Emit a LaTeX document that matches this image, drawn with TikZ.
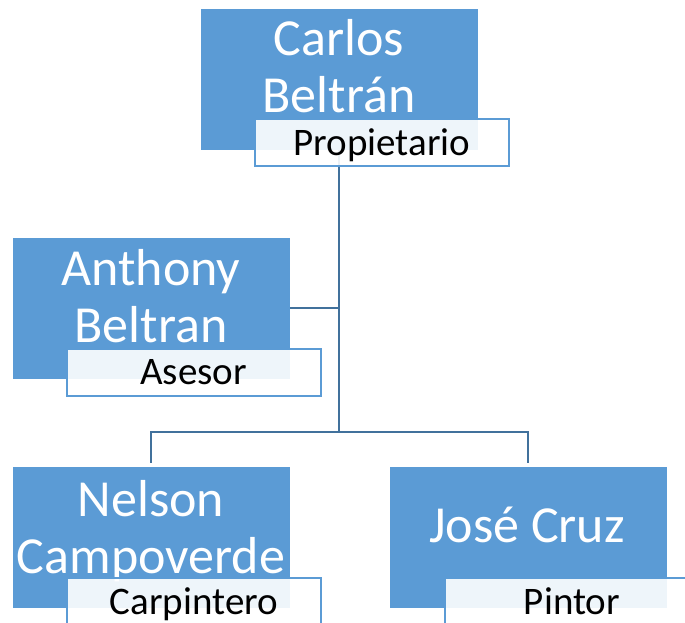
\documentclass[tikz,border=0pt]{standalone}
\usepackage{fontspec}
\setmainfont{Carlito}
\definecolor{boxblue}{HTML}{5B9BD5}
\definecolor{linkblue}{HTML}{41719C}
\begin{document}
\begin{tikzpicture}[x=1pt, y=-1pt,
  member/.style = {rectangle, fill = boxblue, draw = white, line width = 0.8pt, minimum width = 278pt, minimum height = 142pt, inner sep = 0pt},
  membername/.style = {text = white, align = center, inner sep = 0pt, font = \fontsize{52}{57}\selectfont},
  role/.style = {rectangle, fill = white, fill opacity = 0.9, text opacity = 1, draw = boxblue, line width = 2pt, minimum width = 254pt, minimum height = 47pt, inner sep = 0pt, text height = 30pt, text depth = 5pt, font = \fontsize{39}{47}\selectfont},
  link/.style = {draw = linkblue, line width = 2.6pt}]
\useasboundingbox (0,0) rectangle (685,623);
\clip (0,0) rectangle (685,623);
\node[member] (carlos) at (339,79) {};
\node[member] (anthony) at (151,308) {};
\node[member] (nelson) at (151,537) {};
\node[member] (jose) at (528,537) {};
\node[membername] (carlos-name) at (339,66.5) {Carlos\\Beltrán};
\node[membername] (anthony-name) at (151,296) {Anthony\\Beltran};
\node[membername] (nelson-name) at (151,531) {Nelson\\Campoverde};
\node[membername, anchor = base] (jose-name) at (527,542) {José Cruz};
\coordinate (split) at (339,432);
\draw[link] (carlos.south) -- (split);
\draw[link] (anthony.east) -- (anthony.east -| split);
\draw[link, shorten >= 3pt, shorten <= 3pt] (nelson.north) |- (split) -| (jose.north);
\node[role] (carlos-role) at (382,142.5) {Propietario};
\node[role] (anthony-role) at (193.5,372) {Asesor};
\node[role] (nelson-role) at (194,601.5) {Carpintero};
\node[role] (jose-role) at (572,601.5) {Pintor};
\end{tikzpicture}
\end{document}
